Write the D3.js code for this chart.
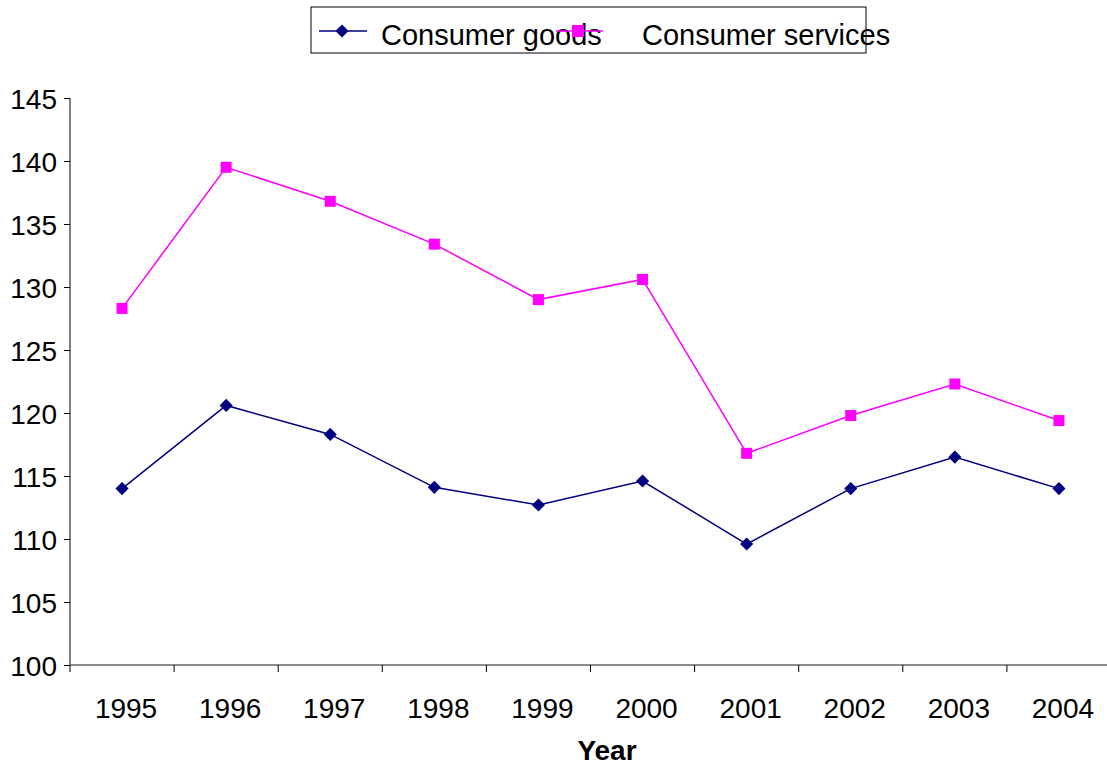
<!DOCTYPE html>
<html><head><meta charset="utf-8">
<script src="https://cdn.jsdelivr.net/npm/d3@7"></script>
<style>body{margin:0;background:#fff}svg{display:block}text{font-family:"Liberation Sans",Arial,sans-serif}</style>
</head><body><svg width="1107" height="765"></svg>
<script>
const years = ["1995","1996","1997","1998","1999","2000","2001","2002","2003","2004"];
const goods = [114.0,120.6,118.3,114.1,112.7,114.6,109.6,114.0,116.5,114.0];
const services = [128.3,139.5,136.8,133.4,129.0,130.6,116.8,119.8,122.3,119.4];
const yTicks = [100,105,110,115,120,125,130,135,140,145];

const svg = d3.select("svg");
const x = d3.scaleBand().domain(years).range([70,1111]);
const y = d3.scaleLinear().domain([100,145]).range([665,98]);

// y axis
const ya = svg.append("g").attr("transform","translate(70,0)")
  .call(d3.axisLeft(y).tickValues(yTicks).tickSize(6).tickPadding(7));
ya.selectAll("text").style("font-size","28px").attr("fill","#000").attr("dy","0.36em");
ya.selectAll("line,path").attr("stroke","#000");
ya.select("path").attr("d","M0,98V665");

// x axis
const xa = svg.append("g").attr("transform","translate(0,665)");
xa.append("line").attr("x1",70).attr("x2",1111).attr("stroke","#666").attr("stroke-width",1.5);
xa.selectAll("line.t").data(years.concat(["end"])).enter().append("line")
  .attr("class","t")
  .attr("x1",(d,i)=>70+i*x.step()).attr("x2",(d,i)=>70+i*x.step())
  .attr("y1",0).attr("y2",7).attr("stroke","#000");
xa.selectAll("text").data(years).enter().append("text")
  .attr("x",d=>x(d)+x.bandwidth()/2+4).attr("y",53)
  .attr("text-anchor","middle").style("font-size","28px").text(d=>d);

svg.append("text").attr("x",607).attr("y",760).attr("text-anchor","middle")
  .style("font-size","28px").style("font-weight","bold").text("Year");

const cx = d => x(d)+x.bandwidth()/2;
const line = vals => d3.line().x((v,i)=>cx(years[i])).y(v=>y(v))(vals);

svg.append("path").attr("d",line(services)).attr("fill","none").attr("stroke","#ff00ff").attr("stroke-width",1.5);
svg.append("path").attr("d",line(goods)).attr("fill","none").attr("stroke","#000080").attr("stroke-width",1.5);

svg.selectAll("rect.s").data(services).enter().append("rect").attr("class","s")
  .attr("x",(v,i)=>cx(years[i])-5.5).attr("y",v=>y(v)-5.5).attr("width",11).attr("height",11).attr("fill","#ff00ff");
const diamond = d3.symbol().type(d3.symbolDiamond2).size(110);
svg.selectAll("path.g").data(goods).enter().append("path").attr("class","g")
  .attr("d",diamond).attr("transform",(v,i)=>`translate(${cx(years[i])},${y(v)})`).attr("fill","#000080");

// legend
const lg = svg.append("g");
lg.append("rect").attr("x",311).attr("y",7).attr("width",555).attr("height",46).attr("fill","#fff").attr("stroke","#000");
lg.append("line").attr("x1",319).attr("x2",367).attr("y1",31).attr("y2",31).attr("stroke","#000080").attr("stroke-width",1.5);
lg.append("path").attr("d",diamond).attr("transform","translate(342,31)").attr("fill","#000080");
lg.append("text").attr("x",381).attr("y",45).style("font-size","29px").text("Consumer goods");
lg.append("line").attr("x1",556).attr("x2",603).attr("y1",31).attr("y2",31).attr("stroke","#ff00ff").attr("stroke-width",1.5);
lg.append("rect").attr("x",572).attr("y",25).attr("width",12).attr("height",12).attr("fill","#ff00ff");
lg.append("text").attr("x",642).attr("y",45).style("font-size","29px").text("Consumer services");
</script></body></html>
